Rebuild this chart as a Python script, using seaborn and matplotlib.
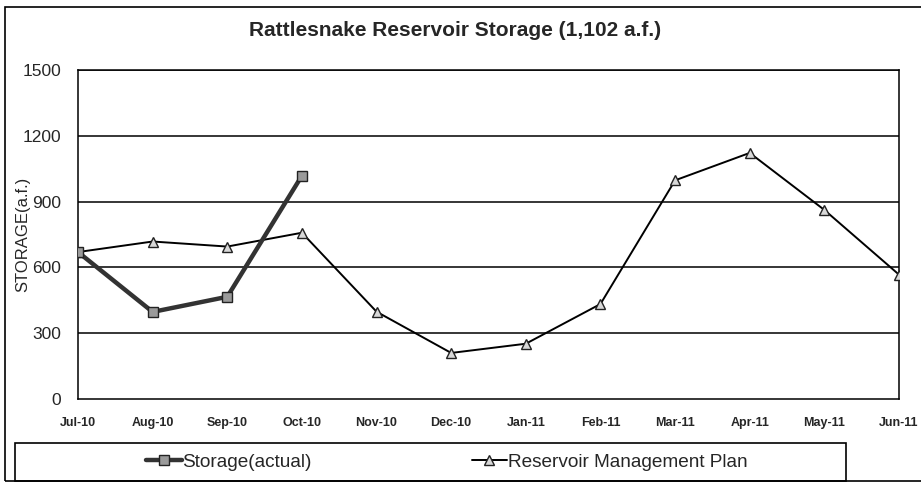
"""
Rattlesnake Reservoir storage chart (actual vs management plan)
"""

import pandas as pd
import matplotlib
matplotlib.use('Agg')
import matplotlib.pyplot as plt
import seaborn as sns
from matplotlib.patches import Rectangle

# Veriler
months = ['Jul-10', 'Aug-10', 'Sep-10', 'Oct-10', 'Nov-10', 'Dec-10',
          'Jan-11', 'Feb-11', 'Mar-11', 'Apr-11', 'May-11', 'Jun-11']
plan_values = [670, 718, 695, 758, 398, 210, 252, 433, 997, 1122, 862, 567]
actual_months = ['Jul-10', 'Aug-10', 'Sep-10', 'Oct-10']
actual_values = [670, 397, 466, 1018]
y_ticks = [0, 300, 600, 900, 1200, 1500]

sns.set_style('white')
plt.rcParams['font.family'] = ['Liberation Sans', 'DejaVu Sans']

plan_df = pd.DataFrame({'idx': range(len(months)), 'value': plan_values})
actual_df = pd.DataFrame({'idx': [months.index(m) for m in actual_months],
                          'value': actual_values})

fig = plt.figure(figsize=(9.21, 4.84), dpi=100)
W, H = 921, 484
ax = fig.add_axes([78 / W, 1 - 399 / H, 821 / W, 329 / H])

# Yatay ızgara
for yv in y_ticks[1:]:
    ax.axhline(yv, color='black', lw=1.1, zorder=1)

sns.lineplot(data=plan_df, x='idx', y='value', ax=ax, color='black', lw=1.4,
             marker='^', markersize=7, markerfacecolor='#d8d8d8',
             markeredgecolor='#222222', markeredgewidth=1.0, zorder=3,
             label='Reservoir Management Plan', legend=False)
sns.lineplot(data=actual_df, x='idx', y='value', ax=ax, color='#333333', lw=3.2,
             marker='s', markersize=6.5, markerfacecolor='#9a9a9a',
             markeredgecolor='#222222', markeredgewidth=1.0, zorder=4,
             label='Storage(actual)', legend=False)

ax.set_xlim(0, len(months) - 1)
ax.set_ylim(0, 1500)
ax.set_xticks(range(len(months)))
ax.set_xticklabels(months, fontsize=9, fontweight='bold')
ax.set_yticks(y_ticks)
ax.set_yticklabels([str(v) for v in y_ticks], fontsize=12.5)
ax.tick_params(axis='x', direction='inout', length=8, width=1, pad=9)
ax.tick_params(axis='y', direction='out', length=0, pad=12)

for side in ['left', 'right', 'bottom', 'top']:
    ax.spines[side].set_visible(True)
    ax.spines[side].set_color('black')
    ax.spines[side].set_linewidth(1.1)

ax.set_xlabel('')
ax.set_ylabel('STORAGE(a.f.)', fontsize=12, labelpad=0)
ax.yaxis.set_label_coords(-0.058, 0.5)

fig.text(455 / W, 1 - 31 / H, 'Rattlesnake Reservoir Storage (1,102 a.f.)',
         ha='center', va='center', fontsize=15, fontweight='bold')

# Dış çerçeve ve lejant kutusu
fig.patches.append(Rectangle((5 / W, 3 / H), 930 / W, 474 / H, fill=False,
                             edgecolor='black', lw=1.2, transform=fig.transFigure))
fig.patches.append(Rectangle((15 / W, 3 / H), 831 / W, 38 / H, fill=False,
                             edgecolor='black', lw=1.2, transform=fig.transFigure))

handles, labels = ax.get_legend_handles_labels()
order = [labels.index('Storage(actual)'), labels.index('Reservoir Management Plan')]
fig.legend([handles[i] for i in order], [labels[i] for i in order],
           loc='center', bbox_to_anchor=(447 / W, 1 - 462 / H), ncol=2,
           frameon=False, fontsize=13.7, handlelength=1.85, handletextpad=0.05,
           columnspacing=8.4)

plt.savefig('out.png', dpi=100)
plt.close()
